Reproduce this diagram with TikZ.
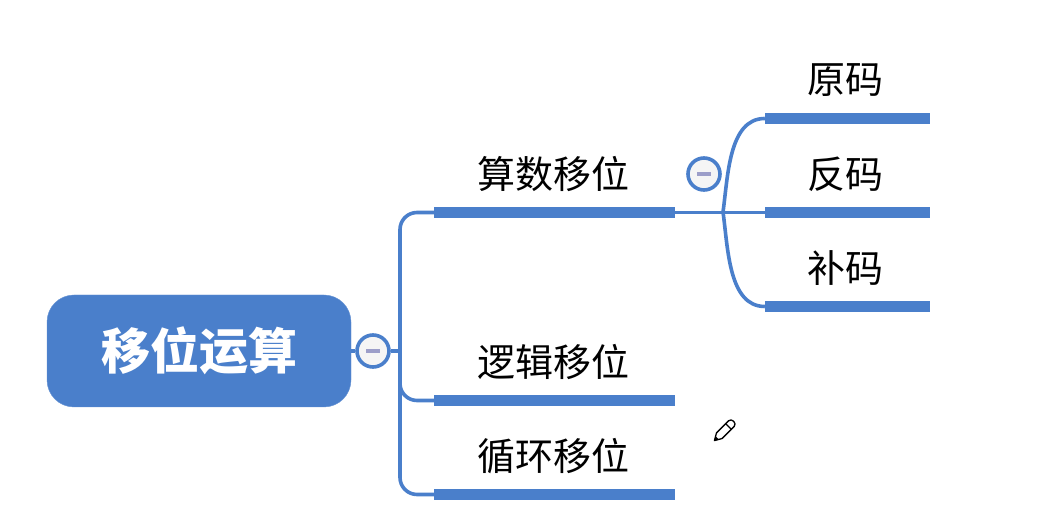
\documentclass[tikz,border=0pt]{standalone}
\usepackage{fontspec}
\setmainfont{Noto Sans CJK SC}
\usepackage{tikz}
\definecolor{mapblue}{HTML}{4A7FCB}
\definecolor{minusgray}{HTML}{9C9EC9}

\begin{document}
\begin{tikzpicture}[x=1pt, y=-1pt,
    rootbox/.style={draw=mapblue!85, fill=mapblue, rounded corners=27pt, minimum width=304pt, minimum height=112pt, inner sep=0pt, text=white, font=\fontsize{49}{52}\selectfont\bfseries},
    bar/.style={fill=mapblue, inner sep=0pt, minimum height=11pt},
    label/.style={inner sep=0pt, text=black, font=\fontsize{38}{41}\selectfont},
    toggle/.style={draw=mapblue, line width=3.6pt, circle, fill=black!4, inner sep=0pt, minimum size=32pt},
    arr/.style={draw=mapblue, line width=3.6pt}]
    \useasboundingbox (0,0) rectangle (1061,526);

    \node[rootbox] (root) at (199,351) {移位运算};
    \node[toggle] (tglroot) at (373,351) {};
    \node[toggle] (tglsuan) at (704,174) {};
    \coordinate (trunk) at (400,351);
    \coordinate (hub) at (723,212);

    \node[bar, minimum width=241pt] (suan) at (554.5,212.5) {};
    \node[bar, minimum width=241pt] (luoji) at (554.5,400.5) {};
    \node[bar, minimum width=241pt] (xunhuan) at (554.5,494.5) {};
    \node[bar, minimum width=165pt] (yuan) at (847.5,118.5) {};
    \node[bar, minimum width=165pt] (fan) at (847.5,212.5) {};
    \node[bar, minimum width=165pt] (bu) at (847.5,306.5) {};

    \node[label] (tsuan) at (553,174) {算数移位};
    \node[label] (tluoji) at (553,362) {逻辑移位};
    \node[label] (txunhuan) at (553,456) {循环移位};
    \node[label] (tyuan) at (845,80) {原码};
    \node[label] (tfan) at (845,174) {反码};
    \node[label] (tbu) at (845,268) {补码};

    \draw[arr] (root) -- (tglroot);
    \draw[arr] (tglroot) -- (trunk);
    \draw[arr, rounded corners=17pt] (trunk) |- (suan.west);
    \draw[arr, rounded corners=17pt] (trunk) |- (luoji.west);
    \draw[arr, rounded corners=17pt] (trunk) |- (xunhuan.west);

    \draw[arr] (suan.east) -- (fan.west);
    \draw[arr] (yuan.west) to[out=180, in=82, looseness=0.9] (hub);
    \draw[arr] (hub) to[out=-82, in=180, looseness=0.9] (bu.west);

    % minus signs
    \draw[minusgray, line width=3.5pt] (tglroot.center) +(-7,0) -- +(7,0);
    \draw[minusgray, line width=3.5pt] (tglsuan.center) +(-7,0) -- +(7,0);

    % pencil cursor
    \begin{scope}[shift={(725,430)}, rotate=45, line join=round]
      \draw[black, line width=1.3pt, fill=white] (-15,0) -- (-8,-4) -- (9,-4) to[out=0, in=0, looseness=1.4] (9,4) -- (-8,4) -- cycle;
      \draw[black, line width=1.3pt] (5,-4) -- (5,4);
      \fill[black] (-15,0) -- (-11,-2) -- (-11,2) -- cycle;
    \end{scope}
  \end{tikzpicture}
\end{document}
